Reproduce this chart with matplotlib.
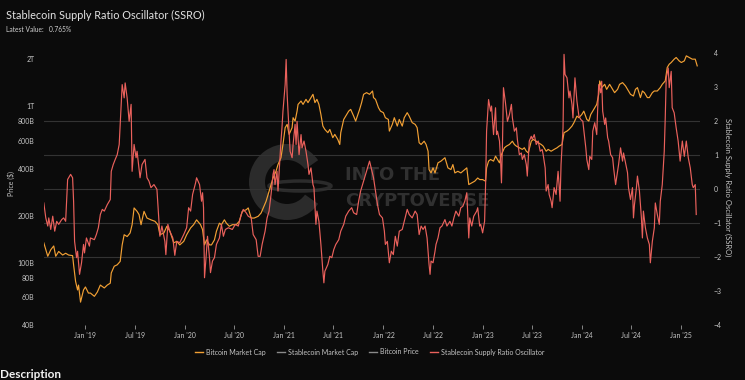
import datetime as dt
import matplotlib
matplotlib.use("Agg")
import matplotlib.pyplot as plt
from matplotlib.lines import Line2D
from matplotlib.patches import Wedge, Ellipse
from matplotlib.transforms import IdentityTransform
from matplotlib.ticker import NullLocator

plt.rcParams['font.family'] = ['Lato', 'DejaVu Sans']

# --- data (decimal year, value) ---
# Bitcoin market cap, billions USD (left log axis)
btc_cap_points = [
    (2018.58, 134), (2018.62, 110), (2018.65, 121), (2018.68, 128), (2018.70, 110), (2018.73, 118),
    (2018.77, 112), (2018.80, 115), (2018.83, 112), (2018.87, 111), (2018.88, 97), (2018.90, 76),
    (2018.92, 67), (2018.93, 72), (2018.95, 56), (2018.98, 67), (2019.00, 70), (2019.03, 64),
    (2019.05, 64), (2019.09, 61), (2019.12, 65), (2019.15, 72), (2019.19, 69), (2019.22, 72),
    (2019.25, 74), (2019.26, 86), (2019.29, 95), (2019.32, 97), (2019.35, 102), (2019.37, 130),
    (2019.39, 151), (2019.42, 147), (2019.45, 155), (2019.47, 175), (2019.49, 224), (2019.52, 213),
    (2019.54, 203), (2019.56, 175), (2019.59, 213), (2019.62, 193), (2019.66, 188), (2019.70, 184),
    (2019.73, 175), (2019.75, 151), (2019.79, 155), (2019.82, 171), (2019.85, 159), (2019.89, 134),
    (2019.92, 137), (2019.95, 130), (2019.99, 137), (2020.02, 151), (2020.06, 167), (2020.09, 175),
    (2020.12, 188), (2020.16, 175), (2020.18, 163), (2020.20, 130), (2020.22, 140), (2020.25, 130),
    (2020.27, 130), (2020.30, 140), (2020.32, 159), (2020.35, 179), (2020.37, 175), (2020.40, 188),
    (2020.42, 179), (2020.45, 171), (2020.48, 175), (2020.52, 175), (2020.55, 184), (2020.58, 213),
    (2020.62, 218), (2020.64, 224), (2020.67, 193), (2020.70, 193), (2020.74, 198), (2020.77, 208),
    (2020.82, 247), (2020.86, 301), (2020.89, 348), (2020.92, 384), (2020.94, 424), (2020.97, 469),
    (2020.99, 570), (2021.01, 730), (2021.03, 766), (2021.05, 661), (2021.08, 730), (2021.09, 845),
    (2021.11, 804), (2021.13, 931), (2021.14, 1028), (2021.17, 1080), (2021.19, 1028), (2021.22, 1107),
    (2021.24, 1055), (2021.27, 1136), (2021.29, 1192), (2021.31, 1055), (2021.33, 1107), (2021.35, 1028),
    (2021.37, 887), (2021.39, 747), (2021.41, 711), (2021.44, 678), (2021.46, 711), (2021.49, 630),
    (2021.51, 661), (2021.54, 614), (2021.56, 570), (2021.57, 678), (2021.60, 824), (2021.62, 865),
    (2021.65, 931), (2021.67, 955), (2021.70, 865), (2021.72, 804), (2021.76, 955), (2021.78, 1055),
    (2021.80, 1192), (2021.83, 1222), (2021.86, 1192), (2021.89, 1252), (2021.90, 1136), (2021.92, 1107),
    (2021.95, 979), (2021.97, 931), (2022.00, 910), (2022.02, 845), (2022.05, 824), (2022.06, 694),
    (2022.09, 766), (2022.11, 845), (2022.14, 747), (2022.16, 824), (2022.19, 747), (2022.21, 845),
    (2022.24, 910), (2022.26, 865), (2022.29, 786), (2022.32, 766), (2022.34, 730), (2022.36, 585),
    (2022.38, 570), (2022.41, 598), (2022.43, 570), (2022.45, 516), (2022.46, 394), (2022.48, 375),
    (2022.50, 404), (2022.52, 375), (2022.55, 435), (2022.58, 446), (2022.60, 457), (2022.62, 469),
    (2022.65, 404), (2022.68, 394), (2022.70, 424), (2022.72, 375), (2022.75, 384), (2022.78, 375),
    (2022.82, 394), (2022.84, 404), (2022.86, 316), (2022.89, 324), (2022.92, 332), (2022.95, 348),
    (2022.97, 340), (2023.00, 340), (2023.03, 332), (2023.04, 404), (2023.06, 446), (2023.08, 457),
    (2023.11, 446), (2023.13, 480), (2023.15, 457), (2023.17, 435), (2023.19, 492), (2023.22, 543),
    (2023.24, 556), (2023.27, 570), (2023.30, 598), (2023.32, 570), (2023.34, 556), (2023.37, 543),
    (2023.40, 530), (2023.42, 543), (2023.44, 516), (2023.46, 504), (2023.49, 598), (2023.51, 614),
    (2023.54, 598), (2023.56, 585), (2023.59, 570), (2023.61, 556), (2023.64, 516), (2023.66, 530),
    (2023.69, 516), (2023.72, 530), (2023.75, 543), (2023.77, 556), (2023.80, 570), (2023.82, 678),
    (2023.85, 694), (2023.87, 711), (2023.90, 747), (2023.92, 786), (2023.95, 865), (2023.97, 845),
    (2024.00, 887), (2024.02, 931), (2024.05, 824), (2024.07, 804), (2024.09, 887), (2024.12, 955),
    (2024.15, 1028), (2024.17, 1192), (2024.18, 1452), (2024.20, 1316), (2024.23, 1381), (2024.25, 1283),
    (2024.28, 1381), (2024.31, 1283), (2024.33, 1222), (2024.36, 1283), (2024.38, 1381), (2024.41, 1416),
    (2024.44, 1348), (2024.46, 1283), (2024.49, 1192), (2024.52, 1163), (2024.54, 1283), (2024.56, 1316),
    (2024.59, 1136), (2024.61, 1252), (2024.63, 1222), (2024.66, 1136), (2024.68, 1136), (2024.71, 1222),
    (2024.73, 1252), (2024.76, 1252), (2024.79, 1316), (2024.81, 1381), (2024.84, 1452), (2024.86, 1770),
    (2024.88, 1857), (2024.90, 1904), (2024.93, 2000), (2024.95, 2050), (2024.98, 1950), (2025.00, 1904),
    (2025.03, 1950), (2025.05, 2100), (2025.08, 2050), (2025.11, 2000), (2025.14, 2000), (2025.16, 1812),
]

# Stablecoin Supply Ratio Oscillator (right axis)
ssro_points = [
    (2018.58, -0.41), (2018.60, -0.85), (2018.62, -1.09), (2018.63, -0.85), (2018.65, -1.19), (2018.67, -0.80),
    (2018.69, -1.24), (2018.71, -0.95), (2018.73, -1.04), (2018.76, -0.90), (2018.78, -0.85), (2018.80, -0.95),
    (2018.82, 0.28), (2018.83, 0.33), (2018.85, 0.43), (2018.87, 0.33), (2018.88, -0.36), (2018.89, -1.54),
    (2018.91, -2.02), (2018.92, -1.83), (2018.94, -2.51), (2018.96, -2.17), (2018.98, -1.63), (2018.99, -1.88),
    (2019.01, -1.44), (2019.04, -1.68), (2019.05, -1.44), (2019.09, -1.49), (2019.11, -1.34), (2019.13, -1.14),
    (2019.15, -0.75), (2019.17, -0.60), (2019.19, -0.65), (2019.22, -0.46), (2019.25, -0.31), (2019.26, 0.52),
    (2019.28, 0.72), (2019.30, 0.87), (2019.32, 1.01), (2019.34, 1.31), (2019.35, 1.90), (2019.37, 3.07),
    (2019.39, 2.68), (2019.40, 3.12), (2019.42, 2.68), (2019.44, 1.99), (2019.46, 2.49), (2019.47, 0.52),
    (2019.49, 1.31), (2019.51, 0.92), (2019.52, 1.11), (2019.55, 0.33), (2019.57, 0.72), (2019.60, 0.87),
    (2019.62, 0.33), (2019.64, 0.23), (2019.66, 0.04), (2019.69, 0.13), (2019.72, -0.01), (2019.74, -0.95),
    (2019.75, -1.39), (2019.77, -1.09), (2019.80, -1.54), (2019.81, -1.93), (2019.83, -1.04), (2019.85, -1.24),
    (2019.88, -1.44), (2019.90, -1.95), (2019.92, -1.54), (2019.95, -1.58), (2019.99, -1.34), (2020.02, -1.14),
    (2020.04, -0.55), (2020.06, -0.65), (2020.08, -0.16), (2020.11, 0.18), (2020.12, 0.33), (2020.15, 0.13),
    (2020.17, -0.36), (2020.18, -0.11), (2020.19, -0.55), (2020.20, -2.61), (2020.22, -1.83), (2020.23, -1.39),
    (2020.25, -2.02), (2020.26, -2.46), (2020.28, -2.12), (2020.30, -2.02), (2020.32, -1.63), (2020.35, -1.44),
    (2020.37, -1.04), (2020.39, -1.39), (2020.41, -1.19), (2020.44, -1.14), (2020.48, -1.19), (2020.51, -1.04),
    (2020.54, -1.09), (2020.57, -0.75), (2020.59, -0.60), (2020.62, -0.70), (2020.64, -0.80), (2020.67, -0.85),
    (2020.69, -1.34), (2020.72, -1.49), (2020.74, -1.98), (2020.76, -1.98), (2020.78, -1.63), (2020.81, -1.24),
    (2020.83, -0.85), (2020.85, -0.65), (2020.87, -0.16), (2020.89, 0.43), (2020.90, 0.57), (2020.91, 0.13),
    (2020.93, 0.52), (2020.94, -0.06), (2020.95, 0.43), (2020.97, 1.41), (2020.98, 1.80), (2020.99, 2.29),
    (2021.01, 3.07), (2021.02, 3.81), (2021.03, 2.78), (2021.05, 1.70), (2021.06, 1.11), (2021.08, 0.92),
    (2021.09, 1.31), (2021.11, 1.90), (2021.12, 1.31), (2021.13, 1.99), (2021.15, 1.01), (2021.17, 1.60),
    (2021.18, 1.21), (2021.20, 1.41), (2021.22, 1.11), (2021.24, 0.72), (2021.25, 0.43), (2021.27, 0.62),
    (2021.29, 0.13), (2021.30, 0.04), (2021.32, -1.04), (2021.33, -0.65), (2021.35, -0.95), (2021.37, -1.63),
    (2021.39, -2.42), (2021.40, -2.76), (2021.41, -2.42), (2021.44, -2.22), (2021.46, -1.98), (2021.48, -2.02),
    (2021.50, -1.78), (2021.52, -1.63), (2021.55, -1.49), (2021.57, -1.24), (2021.60, -1.04), (2021.62, -0.80),
    (2021.65, -0.65), (2021.68, -0.55), (2021.70, -0.70), (2021.73, -0.75), (2021.75, -0.36), (2021.77, -0.06),
    (2021.80, 0.23), (2021.82, 0.43), (2021.85, 0.72), (2021.86, 0.82), (2021.90, 0.33), (2021.92, -0.06),
    (2021.94, -0.46), (2021.96, -0.75), (2021.99, -0.85), (2022.01, -1.24), (2022.02, -1.63), (2022.04, -1.54),
    (2022.06, -2.17), (2022.08, -1.83), (2022.10, -1.93), (2022.12, -1.39), (2022.14, -1.68), (2022.16, -1.24),
    (2022.19, -1.19), (2022.21, -0.95), (2022.24, -0.60), (2022.26, -0.75), (2022.29, -0.85), (2022.32, -0.65),
    (2022.34, -0.75), (2022.36, -1.34), (2022.38, -1.09), (2022.40, -1.19), (2022.42, -1.09), (2022.44, -1.44),
    (2022.46, -2.22), (2022.47, -2.51), (2022.48, -2.12), (2022.50, -2.17), (2022.52, -1.83), (2022.53, -1.63),
    (2022.55, -1.44), (2022.57, -1.14), (2022.59, -1.09), (2022.62, -0.90), (2022.64, -1.09), (2022.67, -0.95),
    (2022.69, -1.09), (2022.71, -0.85), (2022.73, -0.65), (2022.76, -0.80), (2022.78, -0.55), (2022.80, -0.51),
    (2022.82, -0.36), (2022.84, -0.11), (2022.86, -1.44), (2022.87, -0.85), (2022.89, -1.09), (2022.91, -0.80),
    (2022.94, -0.65), (2022.95, -0.55), (2022.97, -1.09), (2022.98, -1.04), (2023.00, -1.29), (2023.02, -0.95),
    (2023.03, 0.13), (2023.04, 1.70), (2023.06, 2.63), (2023.08, 2.29), (2023.09, 2.44), (2023.11, 1.60),
    (2023.13, 2.39), (2023.14, 1.60), (2023.15, 1.70), (2023.17, 1.41), (2023.18, 0.92), (2023.19, 0.18),
    (2023.20, 1.31), (2023.21, 2.98), (2023.23, 2.54), (2023.25, 1.99), (2023.27, 2.19), (2023.29, 2.49),
    (2023.30, 2.09), (2023.32, 1.70), (2023.34, 1.80), (2023.35, 1.46), (2023.37, 1.01), (2023.39, 1.06),
    (2023.40, 0.87), (2023.42, 1.01), (2023.44, 0.72), (2023.45, 0.38), (2023.47, 1.41), (2023.49, 1.55),
    (2023.50, 1.46), (2023.52, 1.60), (2023.54, 1.31), (2023.56, 1.41), (2023.58, 1.11), (2023.60, 1.16),
    (2023.61, 1.01), (2023.63, 0.62), (2023.64, -0.06), (2023.66, 0.13), (2023.67, -0.16), (2023.69, -0.36),
    (2023.70, -0.55), (2023.72, 0.04), (2023.74, -0.16), (2023.76, 0.52), (2023.77, 0.13), (2023.78, -0.36),
    (2023.79, 0.72), (2023.81, 1.80), (2023.82, 3.96), (2023.83, 3.37), (2023.85, 3.27), (2023.87, 2.68),
    (2023.88, 2.88), (2023.90, 2.49), (2023.91, 2.09), (2023.93, 3.27), (2023.95, 2.58), (2023.97, 2.14),
    (2023.99, 2.04), (2024.01, 1.99), (2024.04, 1.21), (2024.05, 0.87), (2024.07, 0.57), (2024.08, 0.96),
    (2024.10, 0.87), (2024.11, 1.70), (2024.13, 1.95), (2024.15, 1.60), (2024.16, 2.39), (2024.17, 3.07),
    (2024.19, 2.83), (2024.20, 3.17), (2024.21, 2.29), (2024.23, 1.90), (2024.24, 2.09), (2024.26, 1.51),
    (2024.27, 1.41), (2024.29, 1.01), (2024.31, 0.92), (2024.32, 0.62), (2024.34, 0.13), (2024.36, 0.52),
    (2024.37, 0.72), (2024.39, 1.21), (2024.41, 0.82), (2024.42, 1.06), (2024.44, 0.77), (2024.46, 0.48),
    (2024.47, 0.04), (2024.49, -0.31), (2024.51, 0.04), (2024.52, -0.85), (2024.53, -0.46), (2024.55, 0.04),
    (2024.56, 0.38), (2024.58, -0.06), (2024.60, -0.85), (2024.61, -1.44), (2024.62, -0.65), (2024.64, -1.14),
    (2024.66, -1.44), (2024.68, -1.63), (2024.69, -2.17), (2024.71, -1.54), (2024.73, -1.14), (2024.74, -0.41),
    (2024.76, -0.75), (2024.78, -1.04), (2024.79, -0.36), (2024.81, 0.13), (2024.83, 1.11), (2024.84, 2.09),
    (2024.85, 3.27), (2024.87, 3.56), (2024.88, 2.98), (2024.90, 3.46), (2024.91, 2.39), (2024.93, 2.24),
    (2024.95, 1.80), (2024.97, 1.41), (2024.99, 0.82), (2025.01, 1.41), (2025.03, 0.96), (2025.05, 1.41),
    (2025.07, 0.92), (2025.09, 0.62), (2025.11, 0.13), (2025.12, 0.04), (2025.14, 0.13), (2025.15, -0.75),
]

left_ticks = [40e9, 60e9, 80e9, 100e9, 200e9, 400e9, 600e9, 800e9, 1e12, 2e12]
left_labels = ['40B', '60B', '80B', '100B', '200B', '400B', '600B', '800B', '1T', '2T']
right_ticks = [-4, -3, -2, -1, 0, 1, 2, 3, 4]
grid_levels = [-2, -1, 0, 1, 2]
legend_labels = ['Bitcoin Market Cap', 'Stablecoin Market Cap', 'Bitcoin Price',
                 'Stablecoin Supply Ratio Oscillator']


def year_to_date(y):
    base = int(y)
    return dt.datetime(base, 1, 1) + dt.timedelta(days=(y - base) * 365.25)


BG = '#0b0b0b'
ORANGE = '#f2a034'
RED = '#ea615c'
GREY = '#8a8a8a'
TXT = '#c4c4c4'

btc_dates = [year_to_date(p[0]) for p in btc_cap_points]
btc_vals = [p[1] * 1e9 for p in btc_cap_points]
ssro_dates = [year_to_date(p[0]) for p in ssro_points]
ssro_vals = [p[1] for p in ssro_points]

fig = plt.figure(figsize=(7.45, 3.8), dpi=100, facecolor=BG)
ax = fig.add_axes([44 / 745, 55 / 380, 656 / 745, 272 / 380])
ax.set_facecolor('none')
ax2 = ax.twinx()

# watermark (behind the axes)
logo = Wedge((287, 198), 38, 35, 325, width=16, facecolor='#2b2b2b', edgecolor='none',
             transform=IdentityTransform(), zorder=-2)
fig.add_artist(logo)
ring = Ellipse((300, 194), 62, 10, facecolor='none', edgecolor='#2b2b2b', lw=2.5,
               transform=IdentityTransform(), zorder=-2)
fig.add_artist(ring)
fig.text(345 / 745, 1 - 175 / 380, 'INTO THE', fontsize=13, fontweight='bold', color='#303030',
         va='center', ha='left', family='DejaVu Sans', zorder=-2)
fig.text(345 / 745, 1 - 201 / 380, 'CRYPTOVERSE', fontsize=13, fontweight='bold', color='#303030',
         va='center', ha='left', family='DejaVu Sans', zorder=-2)

# grid lines follow the right (SSRO) scale but sit under both series
for lv in grid_levels:
    f = (lv + 4) / 8
    ax.plot([0, 1], [f, f], transform=ax.transAxes, color='#333333', lw=0.8, zorder=1)

ax.plot(btc_dates, btc_vals, color=ORANGE, lw=0.85, zorder=3)
ax2.plot(ssro_dates, ssro_vals, color=RED, lw=0.85, zorder=3)

ax.set_yscale('log')
ax.set_ylim(40e9, 2.19e12)
ax.set_yticks(left_ticks)
ax.set_yticklabels(left_labels)
ax.yaxis.set_minor_locator(NullLocator())
ax2.set_ylim(-4, 4)
ax2.set_yticks(right_ticks)

ax.set_xlim(year_to_date(2018.582), year_to_date(2025.188))
xt = []
xl = []
for yr in range(2019, 2026):
    for mon, name in [(1, 'Jan'), (7, 'Jul')]:
        if yr == 2025 and mon == 7:
            continue
        xt.append(dt.datetime(yr, mon, 1))
        xl.append(f"{name} '{yr % 100:02d}")
ax.set_xticks(xt)
ax.set_xticklabels(xl)

for a in (ax, ax2):
    for s in a.spines.values():
        s.set_visible(False)
ax.tick_params(axis='x', length=3, width=0.6, color='#9a9a9a', labelsize=5, labelcolor=TXT, pad=2)
ax.tick_params(axis='y', length=0, labelsize=5, labelcolor=TXT, pad=7)
ax2.tick_params(axis='y', length=0, labelsize=5, labelcolor=TXT, pad=10)

fig.text(11 / 745, 1 - 183 / 380, 'Price ($)', rotation=90, fontsize=5, color=TXT,
         ha='center', va='center')
fig.text(728 / 745, 1 - 187 / 380, 'Stablecoin Supply Ratio Oscillator (SSRO)', rotation=270,
         fontsize=5.5, color=TXT, ha='center', va='center')

fig.text(6 / 745, 1 - 15 / 380, 'Stablecoin Supply Ratio Oscillator (SSRO)', fontsize=7.8,
         color='#e2e2e2', ha='left', va='center')
fig.text(6 / 745, 1 - 30 / 380, 'Latest Value:   0.765%', fontsize=4.8, color='#cfcfcf',
         ha='left', va='center')

handles = [Line2D([], [], color=ORANGE, lw=1), Line2D([], [], color=GREY, lw=1),
           Line2D([], [], color=GREY, lw=1), Line2D([], [], color=RED, lw=1)]
fig.legend(handles, legend_labels, loc='center', bbox_to_anchor=(370 / 745, 1 - 352 / 380), ncol=4,
           frameon=False, fontsize=5, labelcolor=TXT, handlelength=1.1, handletextpad=0.5,
           columnspacing=1.6)

fig.text(0, 2 / 380, 'Description', fontsize=8.5, fontweight='bold', color='#f2f2f2',
         ha='left', va='baseline')

fig.savefig('out.png', dpi=100, facecolor=BG)
